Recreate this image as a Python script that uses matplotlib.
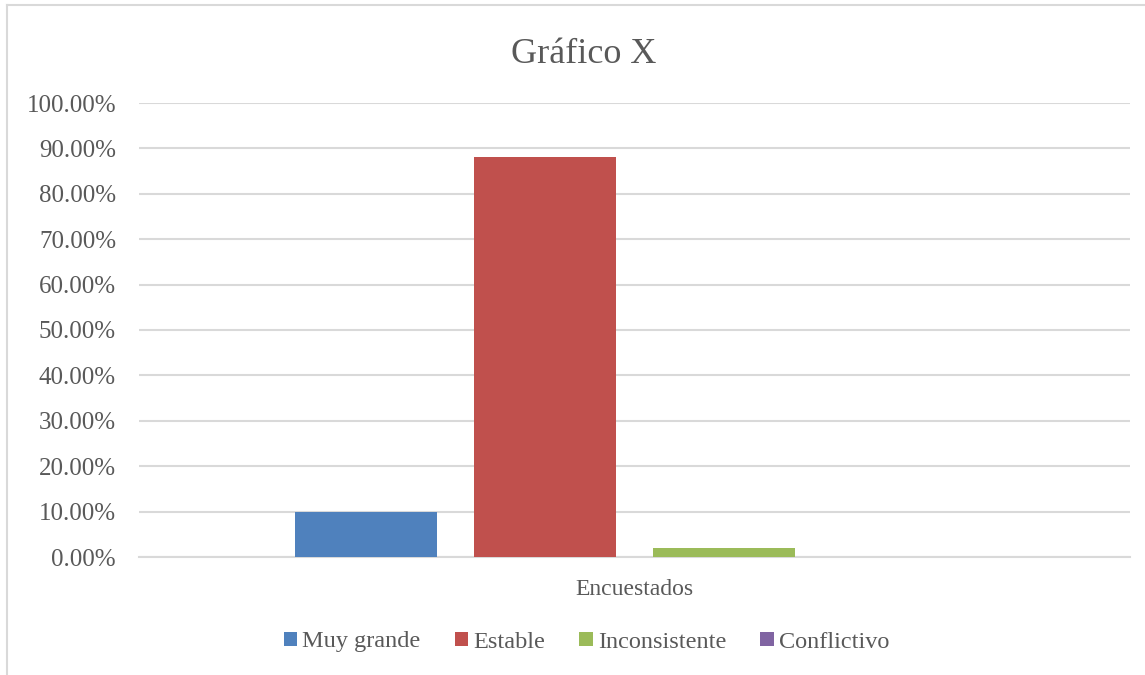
import matplotlib
matplotlib.use("Agg")
import matplotlib.pyplot as plt
from matplotlib.lines import Line2D
from matplotlib.ticker import FuncFormatter
import numpy as np

# Datos de la encuesta
categoria = "Encuestados"
series = ["Muy grande", "Estable", "Inconsistente", "Conflictivo"]
valores = [0.10, 0.88, 0.02, 0.00]
colores = ["#4F81BD", "#C0504D", "#9BBB59", "#8064A2"]

plt.rcParams["font.family"] = ["Liberation Serif", "DejaVu Serif"]
gris = "#595959"
fs = 17.5

W, H = 1145, 675
fig = plt.figure(figsize=(W / 100, H / 100), dpi=100)

# marco del area del grafico
fig.add_artist(Line2D([7 / W, 7 / W], [0, 1 - 5 / H], color="#d9d9d9", lw=1.5,
                      transform=fig.transFigure))
fig.add_artist(Line2D([7 / W, 1], [1 - 5 / H, 1 - 5 / H], color="#d9d9d9", lw=1.5,
                      transform=fig.transFigure))

ax = fig.add_axes([139 / W, (H - 557) / H, (1130 - 139) / W, (557 - 103) / H])

n = len(series)
ancho = 142 / 991
paso = 179 / 991
x = 0.5 + (np.arange(n) - (n - 1) / 2) * paso
for xi, v, c, s in zip(x, valores, colores, series):
    ax.bar(xi, v, width=ancho, color=c, label=s, zorder=3)

ax.set_xlim(0, 1)
ax.set_ylim(0, 1.0)
ax.set_yticks(np.arange(0, 1.01, 0.1))
ax.yaxis.set_major_formatter(FuncFormatter(lambda v, p: f"{v * 100:.2f}%"))
ax.set_xticks([0.5])
ax.set_xticklabels([categoria])
ax.tick_params(axis="y", length=0, pad=16.5, labelsize=fs + 0.5, labelcolor=gris)
ax.tick_params(axis="x", length=0, pad=16, labelsize=fs - 0.5, labelcolor=gris)

ax.grid(axis="y", color="#d9d9d9", lw=1.5, zorder=0)
for lado in ["top", "right", "left"]:
    ax.spines[lado].set_visible(False)
ax.spines["bottom"].set_color("#d9d9d9")
ax.spines["bottom"].set_linewidth(1.5)

fig.text(583.5 / W, 1 - 62.7 / H, "Gráfico X", ha="center", va="baseline",
         fontsize=26, color=gris)

fig.legend(loc="center", bbox_to_anchor=(586.5 / W, 1 - 642 / H), ncol=4,
           frameon=False, fontsize=fs, handlelength=0.55, handleheight=0.55,
           handletextpad=0.22, columnspacing=1.4, labelcolor=gris)

fig.savefig("out.png", dpi=100, facecolor="white")
